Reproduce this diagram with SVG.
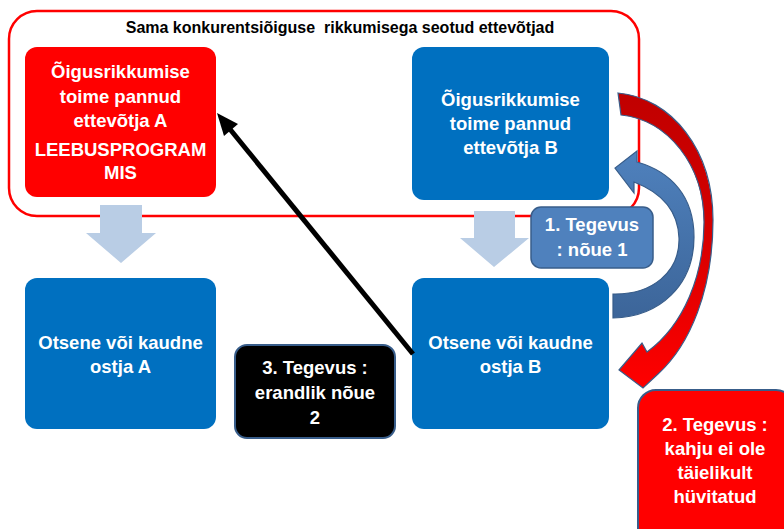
<svg xmlns="http://www.w3.org/2000/svg" width="784" height="529" viewBox="0 0 784 529">
<style>
.t{font-family:"Liberation Sans",Arial,sans-serif;font-weight:bold;font-size:18.5px;fill:#fff;text-anchor:middle}
.title{font-family:"Liberation Sans",Arial,sans-serif;font-weight:bold;font-size:16px;fill:#000;text-anchor:middle;white-space:pre}
.blue{fill:#0070c0}
.down{fill:#b9cde5}
</style>
<defs>
<linearGradient id="gRed" x1="0" y1="0" x2="0" y2="1">
<stop offset="0" stop-color="#c00000"/><stop offset="0.45" stop-color="#d40000"/><stop offset="1" stop-color="#ff0000"/>
</linearGradient>
<linearGradient id="gBlue" x1="0" y1="0" x2="0" y2="1">
<stop offset="0" stop-color="#4f81bd"/><stop offset="1" stop-color="#3c6599"/>
</linearGradient>
</defs>
<rect x="0" y="0" width="784" height="529" fill="#fff"/>
<g id="container">
<rect x="9" y="11" width="630" height="205" rx="28" fill="none" stroke="#ff0000" stroke-width="2.5"/>
<text class="title" x="340" y="33">Sama konkurentsiõiguse  rikkumisega seotud ettevõtjad</text>
</g>
<g id="nodeA">
<rect x="25" y="47" width="191" height="150" rx="12" fill="#ff0000"/>
<text class="t" x="120.5" y="78">Õigusrikkumise</text>
<text class="t" x="120.5" y="103">toime pannud</text>
<text class="t" x="120.5" y="127">ettevõtja A</text>
<text class="t" x="120.5" y="156">LEEBUSPROGRAM</text>
<text class="t" x="120.5" y="179">MIS</text>
</g>
<g id="nodeB">
<rect class="blue" x="412" y="47" width="197" height="153" rx="12"/>
<text class="t" x="510.5" y="106">Õigusrikkumise</text>
<text class="t" x="510.5" y="130">toime pannud</text>
<text class="t" x="510.5" y="154">ettevõtja B</text>
</g>
<g id="buyerA">
<rect class="blue" x="25" y="278" width="191" height="151" rx="12"/>
<text class="t" x="120.5" y="349">Otsene või kaudne</text>
<text class="t" x="120.5" y="373">ostja A</text>
</g>
<g id="buyerB">
<rect class="blue" x="412" y="278" width="197" height="151" rx="12"/>
<text class="t" x="510.5" y="349">Otsene või kaudne</text>
<text class="t" x="510.5" y="373">ostja B</text>
</g>
<g id="connectors">
<polygon class="down" points="100,205 142,205 142,233 156,233 121,263 86,233 100,233"/>
<polygon class="down" points="474,211 515,211 515,238 529,238 494,267 460,238 474,238"/>
<path d="M613,318 C660,317 694,285 694,237 C694,197 672,172 637,162 L637,151 L615,168 L634,193 L634,182 C660,192 678,210 679,238 C680,272 652,295 613,294 Z" fill="url(#gBlue)" stroke="#385d8a" stroke-width="1.2"/>
<path d="M618,93 C672,98 713,150 713,220 C713,290 690,345 658,374 L643,388 L619,370 L642,343 L647,352 C684,325 704,275 704,222 C704,165 668,120 621,115 Z" fill="url(#gRed)" stroke="#385d8a" stroke-width="1.2"/>
<line x1="413" y1="354" x2="229" y2="128" stroke="#000" stroke-width="5"/>
<polygon points="217,113 238,124 224,136" fill="#000"/>
</g>
<g id="action1">
<rect x="531" y="207" width="122" height="61" rx="10" fill="#4f81bd" stroke="#385d8a" stroke-width="1.5"/>
<text class="t" x="592" y="231">1. Tegevus</text>
<text class="t" x="592" y="256">: nõue 1</text>
</g>
<g id="action3">
<rect x="235" y="345" width="160" height="93" rx="12" fill="#000" stroke="#385d8a" stroke-width="2"/>
<text class="t" x="315" y="374">3. Tegevus :</text>
<text class="t" x="315" y="399">erandlik nõue</text>
<text class="t" x="315" y="424">2</text>
</g>
<g id="action2">
<rect x="638" y="390" width="156" height="160" rx="18" fill="#ff0000" stroke="#385d8a" stroke-width="2"/>
<text class="t" x="715" y="431">2. Tegevus :</text>
<text class="t" x="715" y="455">kahju ei ole</text>
<text class="t" x="715" y="479">täielikult</text>
<text class="t" x="715" y="503">hüvitatud</text>
</g>
</svg>
